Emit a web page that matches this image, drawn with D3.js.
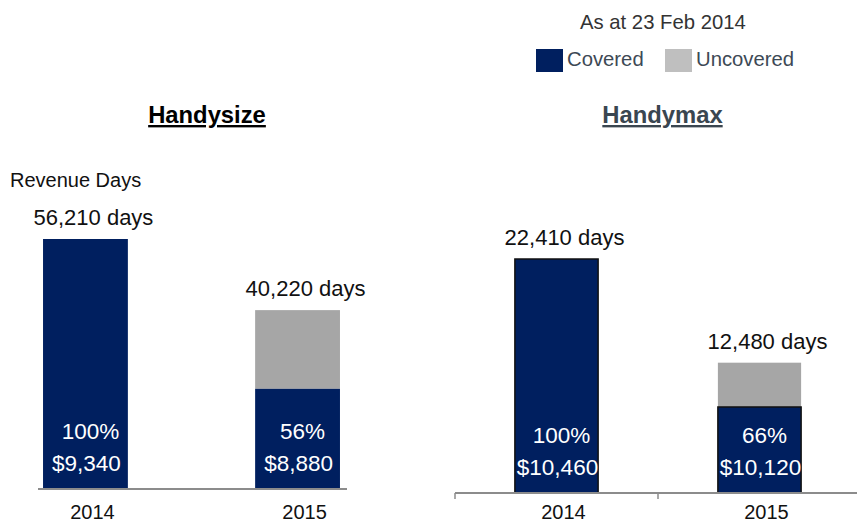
<!DOCTYPE html>
<html><head><meta charset="utf-8">
<script src="https://cdn.jsdelivr.net/npm/d3@7"></script>
<style>
body{margin:0;background:#fff;}
text{font-family:"Liberation Sans",Arial,sans-serif;}
</style></head>
<body><svg id="c" width="857" height="523"></svg>
<script>
// ---- data ----
const years = ["2014", "2015"];
const handysizeTotal = [56210, 40220];
const handysizeCoveredPct = [100, 56];
const handysizeRate = ["$9,340", "$8,880"];
const handymaxTotal = [22410, 12480];
const handymaxCoveredPct = [100, 66];
const handymaxRate = ["$10,460", "$10,120"];
const legendLabels = ["Covered", "Uncovered"];
const asAtLabel = "As at 23 Feb 2014";

const NAVY = "#001f5f", GRAY = "#a6a6a6", LGRAY = "#bfbfbf";
const svg = d3.select("#c");
const fmt = d3.format(",");

// legend
svg.append("text").attr("x", 580).attr("y", 29).attr("font-size", 20.3).attr("fill", "#333").text(asAtLabel);
const leg = svg.append("g");
[[536, NAVY], [665, LGRAY]].forEach((d, i) => {
  leg.append("rect").attr("x", d[0]).attr("y", 49).attr("width", 27).attr("height", 23).attr("fill", d[1]);
  leg.append("text").attr("x", d[0] + 31).attr("y", 66).attr("font-size", 20.3).attr("fill", "#3d4955").text(legendLabels[i]);
});

function panel(opt) {
  const g = svg.append("g");
  const x = d3.scaleBand().domain(years).range(opt.xr).paddingInner(opt.pi).paddingOuter(opt.po);
  const y = d3.scaleLinear().domain([0, d3.max(opt.total)]).range([opt.axisY, opt.topY]);
  // title
  g.append("text").attr("x", opt.titleX).attr("y", 123).attr("text-anchor", "middle")
    .attr("font-size", 23.8).attr("font-weight", "bold").attr("fill", opt.titleColor)
    .attr("text-decoration", "underline").text(opt.title);
  const rows = years.map((yr, i) => ({
    yr, total: opt.total[i], covered: opt.total[i] * opt.pct[i] / 100, pct: opt.pct[i], rate: opt.rate[i]
  }));
  g.selectAll("rect.unc").data(rows.filter(d => d.pct < 100)).join("rect")
    .attr("x", d => x(d.yr)).attr("width", x.bandwidth())
    .attr("y", d => y(d.total)).attr("height", d => y(d.covered) - y(d.total))
    .attr("fill", GRAY);
  g.selectAll("rect.cov").data(rows).join("rect")
    .attr("x", d => x(d.yr)).attr("width", x.bandwidth())
    .attr("y", d => y(d.covered)).attr("height", d => y(0) - y(d.covered))
    .attr("fill", NAVY).attr("stroke", opt.stroke).attr("stroke-width", opt.stroke === "none" ? 0 : 1.5);
  g.selectAll("text.days").data(rows).join("text")
    .attr("x", d => x(d.yr) + x.bandwidth() / 2 + 8).attr("y", d => y(d.total) - 14)
    .attr("text-anchor", "middle").attr("font-size", 22).attr("fill", "#111")
    .text(d => fmt(d.total) + " days");
  g.selectAll("text.pct").data(rows).join("text")
    .attr("x", d => x(d.yr) + x.bandwidth() / 2 + 5).attr("y", opt.axisY - 50)
    .attr("text-anchor", "middle").attr("font-size", 22.5).attr("fill", "#fff")
    .text(d => d.pct + "%");
  g.selectAll("text.rate").data(rows).join("text")
    .attr("x", d => x(d.yr) + x.bandwidth() / 2 + 1).attr("y", opt.axisY - 18)
    .attr("text-anchor", "middle").attr("font-size", 22.5).attr("fill", "#fff")
    .text(d => d.rate);
  // axis
  const ax = g.append("g").attr("transform", `translate(0,${opt.axisY})`)
    .call(d3.axisBottom(x).tickSize(0).tickPadding(0).tickFormat(""));
  ax.select(".domain").remove();
  g.append("line").attr("x1", opt.axX[0]).attr("x2", opt.axX[1]).attr("y1", opt.axisY).attr("y2", opt.axisY)
    .attr("stroke", "#8c8c8c").attr("stroke-width", 2);
  if (opt.ticks) {
    const b = [x.range()[0], x(years[1]) - x.step() * x.paddingInner() / 2, x.range()[1]];
    g.selectAll("line.tk").data(b).join("line")
      .attr("x1", d => d).attr("x2", d => d).attr("y1", opt.axisY).attr("y2", opt.axisY + 6)
      .attr("stroke", "#8c8c8c").attr("stroke-width", 1.5);
  }
  g.selectAll("text.yr").data(rows).join("text")
    .attr("x", d => x(d.yr) + x.bandwidth() / 2 + 7).attr("y", 519)
    .attr("text-anchor", "middle").attr("font-size", 20).attr("fill", "#111")
    .text(d => d.yr);
  return g;
}

panel({title: "Handysize", titleX: 207, titleColor: "#000", total: handysizeTotal, pct: handysizeCoveredPct,
  rate: handysizeRate, xr: [-20.6, 403.6], pi: 0.6, po: 0.3, axisY: 489, topY: 239, axX: [38, 347],
  stroke: "none", ticks: false});
panel({title: "Handymax", titleX: 662.5, titleColor: "#3a4650", total: handymaxTotal, pct: handymaxCoveredPct,
  rate: handymaxRate, xr: [455, 861], pi: 0.59, po: 0.295, axisY: 493, topY: 259, axX: [455, 861],
  stroke: "#111", ticks: true});

svg.append("text").attr("x", 10).attr("y", 187).attr("font-size", 20).attr("fill", "#111").text("Revenue Days");
</script></body></html>
